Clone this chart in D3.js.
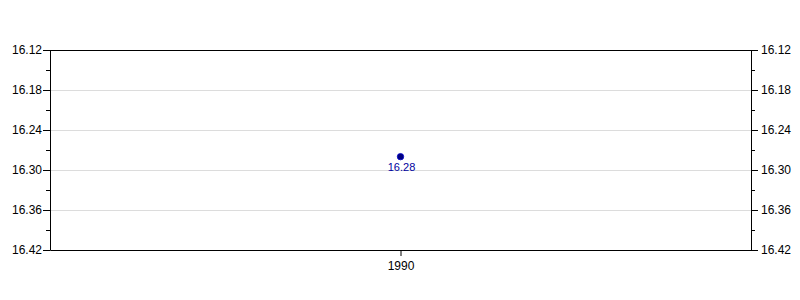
<!DOCTYPE html>
<html>
<head>
<meta charset="utf-8">
<script src="https://cdn.jsdelivr.net/npm/d3@7"></script>
<style>
  body { margin: 0; background: #fff; }
  text { font-family: "Liberation Sans", Arial, sans-serif; }
</style>
</head>
<body>
<div id="wrapper"></div>
<script>
// Data
const years = [1990]
const values = [16.28]
const yTicks = [16.12, 16.18, 16.24, 16.30, 16.36, 16.42]
const yMinorTicks = [16.15, 16.21, 16.27, 16.33, 16.39]

const dimensions = {
  width: 800,
  height: 300,
  margin: { top: 50, right: 49, bottom: 50, left: 50 },
}
dimensions.boundedWidth = dimensions.width - dimensions.margin.left - dimensions.margin.right
dimensions.boundedHeight = dimensions.height - dimensions.margin.top - dimensions.margin.bottom

const svg = d3.select("#wrapper")
  .append("svg")
    .attr("width", dimensions.width)
    .attr("height", dimensions.height)

const bounds = svg.append("g")
  .attr("transform", `translate(${dimensions.margin.left},${dimensions.margin.top})`)

// x is a point scale so the single year sits in the middle
const xScale = d3.scalePoint()
  .domain(years)
  .range([0, dimensions.boundedWidth])
  .padding(0.5)

// inverted y: smaller values at the top
const yScale = d3.scaleLinear()
  .domain([16.12, 16.42])
  .range([0, dimensions.boundedHeight])

// grid lines
bounds.append("g")
  .selectAll("line")
  .data(yTicks)
  .join("line")
    .attr("x1", 0)
    .attr("x2", dimensions.boundedWidth)
    .attr("y1", d => Math.round(yScale(d)) + 0.5)
    .attr("y2", d => Math.round(yScale(d)) + 0.5)
    .attr("stroke", "#dcdcdc")

// top border
bounds.append("line")
  .attr("x1", 0).attr("x2", dimensions.boundedWidth)
  .attr("y1", 0.5).attr("y2", 0.5)
  .attr("stroke", "#000")

const styleAxis = g => {
  g.selectAll("text")
    .attr("font-size", 12)
    .attr("fill", "#000")
  g.selectAll("path, line").attr("stroke", "#000")
}

// minor ticks first (left/right)
bounds.append("g")
  .call(d3.axisLeft(yScale).tickValues(yMinorTicks).tickSize(4).tickFormat(""))
  .call(g => g.select(".domain").remove())
  .call(styleAxis)
bounds.append("g")
  .attr("transform", `translate(${dimensions.boundedWidth},0)`)
  .call(d3.axisRight(yScale).tickValues(yMinorTicks).tickSize(4).tickFormat(""))
  .call(g => g.select(".domain").remove())
  .call(styleAxis)

// major y axes
bounds.append("g")
  .call(d3.axisLeft(yScale).tickValues(yTicks).tickSize(7).tickSizeOuter(0).tickPadding(1).tickFormat(d3.format(".2f")))
  .call(styleAxis)
bounds.append("g")
  .attr("transform", `translate(${dimensions.boundedWidth},0)`)
  .call(d3.axisRight(yScale).tickValues(yTicks).tickSize(7).tickSizeOuter(0).tickPadding(3).tickFormat(d3.format(".2f")))
  .call(styleAxis)

// x axis
bounds.append("g")
  .attr("transform", `translate(0,${dimensions.boundedHeight})`)
  .call(d3.axisBottom(xScale).tickSize(6).tickSizeOuter(0).tickPadding(5))
  .call(styleAxis)

// the point and its label
const dots = bounds.append("g")
  .selectAll("g")
  .data(years.map((y, i) => ({ year: y, value: values[i] })))
  .join("g")

dots.append("circle")
  .attr("cx", d => xScale(d.year))
  .attr("cy", d => yScale(d.value))
  .attr("r", 3.2)
  .attr("fill", "#00007f")
  .attr("stroke", "#0000cc")
  .attr("stroke-width", 0.8)

dots.append("text")
  .attr("x", d => xScale(d.year) + 1)
  .attr("y", d => yScale(d.value) + 14)
  .attr("text-anchor", "middle")
  .attr("font-size", 11)
  .attr("fill", "#0000a0")
  .text(d => d3.format(".2f")(d.value))
</script>
</body>
</html>
